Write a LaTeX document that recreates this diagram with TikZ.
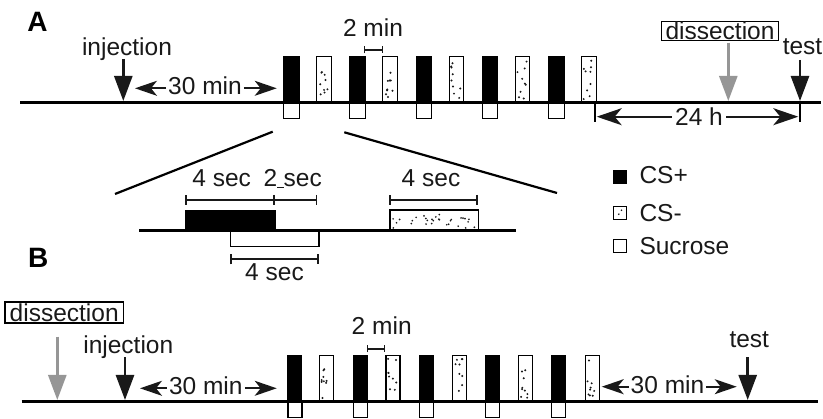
\documentclass[tikz,border=0pt]{standalone}
\usepackage{fontspec}
\setmainfont{Liberation Sans}
\usetikzlibrary{arrows.meta,calc}
\definecolor{ink}{RGB}{25,25,25}
\definecolor{arrowgray}{RGB}{150,150,150}

\begin{document}
\begin{tikzpicture}[x=1pt,y=-1pt,
  every node/.style={font=\fontsize{24.5}{28}\selectfont, text=ink},
  panel/.style={font=\bfseries\fontsize{28}{30}\selectfont, text=black},
  timeline/.style={line width=3pt, draw=black},
  cspbar/.style={fill=black, draw=black, line width=0.8pt, inner sep=0pt, minimum width=#1, minimum height=45.5pt, anchor=south west},
  csmbar/.style={fill=white, draw=black, line width=1.2pt, inner sep=0pt, minimum width=#1, minimum height=45.5pt, anchor=south west},
  sucbox/.style={fill=white, draw=black, line width=1.2pt, inner sep=0pt, minimum width=#1, minimum height=15pt, anchor=north west},
  boxed/.style={draw=black, line width=1.2pt, inner sep=0pt, minimum width=117pt, minimum height=19.5pt},
  downarrow/.style={draw=ink, line width=2.6pt, -{Triangle[length=25pt,width=18pt]}},
  grayarrow/.style={draw=arrowgray, line width=2.6pt, -{Triangle[length=25pt,width=18pt]}},
  spanarrow/.style={draw=ink, line width=1.8pt, -{Stealth[length=22pt,width=15pt,inset=6pt]}},
  longarrow/.style={draw=ink, line width=1.8pt, -{Stealth[length=25pt,width=17pt,inset=7pt]}},
  minbracket/.style={draw=ink, line width=1.3pt, {Bar[width=7pt]}-{Bar[width=7pt]}},
  secbracket/.style={draw=ink, line width=1.8pt, {Bar[width=10pt]}-{Bar[width=10pt]}},
  secbracketr/.style={draw=ink, line width=1.8pt, -{Bar[width=10pt]}},
  tick/.style={draw=black, line width=2pt},
  zoomline/.style={draw=black, line width=2.2pt},
  legendsq/.style={draw=black, line width=1.2pt, inner sep=0pt, minimum size=13pt},
  speck/.style={fill=ink}
]
\useasboundingbox (0,0) rectangle (823,419);
\pgfmathsetseed{11}

% ---------------- panel A ----------------
\node[panel] (labA) at (37.5,21.7) {A};

% training trials: CS+ with sucrose, then CS-
\foreach \i in {0,...,4} {
  \node[cspbar=15.5pt] (Ap\i) at ({283+66.25*\i},102.7) {};
  \node[sucbox=15.5pt] (As\i) at ({283+66.25*\i},102.7) {};
  \node[csmbar=14.5pt] (Am\i) at ({316+66.25*\i},102.7) {};
  \foreach \k in {1,...,9}
    \fill[speck] ($(Am\i.south west)+({2.6+rnd*9.4},{-3-rnd*40})$) circle (1.1pt);
}
\coordinate (tlAs) at (20,102.7);
\coordinate (tlAe) at (821,102.7);
\draw[timeline] (tlAs) -- (tlAe);

% injection
\node[anchor=base] (injA) at (127,56) {injection};
\coordinate (injAtop) at (123.3,59);
\coordinate (injAtip) at (123.3,101);
\draw[downarrow] (injAtop) -- (injAtip);

% 30 min interval
\node[anchor=base, inner sep=2pt] (m30A) at (205,95) {30 min};
\coordinate (m30AL) at (135,88.3);
\coordinate (m30AR) at (276.7,88.3);
\draw[spanarrow] (m30A.west |- m30AL) -- (m30AL);
\draw[spanarrow] (m30A.east |- m30AR) -- (m30AR);

% inter-trial interval
\node[anchor=base] (m2A) at (373,37) {2 min};
\coordinate (b2AL) at (364,50);
\coordinate (b2AR) at (383,50);
\draw[minbracket] (b2AL) -- (b2AR);

% dissection
\node[boxed] (disA) at (720,31) {dissection};
\coordinate (disAtop) at (728.3,42.7);
\coordinate (disAtip) at (728.3,101);
\draw[grayarrow] (disAtop) -- (disAtip);

% test
\node[anchor=base] (testA) at (802.5,55) {test};
\coordinate (testAtop) at (800,60);
\coordinate (testAtip) at (800,101);
\draw[downarrow] (testAtop) -- (testAtip);

% 24 h retention
\coordinate (tkAa) at (595,102.7);
\coordinate (tkAab) at (595,122);
\coordinate (tkAb) at (800,102.7);
\coordinate (tkAbb) at (800,122);
\draw[tick] (tkAa) -- (tkAab);
\draw[tick] (tkAb) -- (tkAbb);
\node[anchor=base, inner sep=3pt] (h24) at (699,126) {24 h};
\coordinate (h24L) at (596.7,116.7);
\coordinate (h24R) at (798.3,116.7);
\draw[longarrow] (h24.west |- h24L) -- (h24L);
\draw[longarrow] (h24.east |- h24R) -- (h24R);

% ---------------- trial detail ----------------
\coordinate (zl1) at (115,194);
\coordinate (zl2) at (272.7,131.7);
\coordinate (zr1) at (344.3,132.3);
\coordinate (zr2) at (557,193);
\draw[zoomline] (zl1) -- (zl2);
\draw[zoomline] (zr1) -- (zr2);

\node[cspbar=90pt, minimum height=20.3pt] (dP) at (185,231) {};
\node[sucbox=88.3pt, minimum height=14.7pt] (dS) at (230,231) {};
\node[csmbar=88.4pt, minimum height=20.3pt] (dM) at (389.3,231) {};
\foreach \k in {1,...,30}
  \fill[speck] ($(dM.south west)+({2.5+rnd*83.4},{-3-rnd*14.5})$) circle (0.95pt);
\coordinate (dls) at (139.3,231);
\coordinate (dle) at (516,231);
\draw[timeline] (dls) -- (dle);

\coordinate (bt1) at (185,200);
\coordinate (bt2) at (275,200);
\coordinate (bt3) at (317.3,200);
\coordinate (bt4) at (389.3,200);
\coordinate (bt5) at (477.7,200);
\coordinate (bb1) at (230,259.3);
\coordinate (bb2) at (319,259.3);
\draw[secbracket] (bt1) -- (bt2);
\draw[secbracketr] (bt2) -- (bt3);
\draw[secbracket] (bt4) -- (bt5);
\draw[secbracket] (bb1) -- (bb2);
\node[anchor=base] (s4a) at (221.7,187) {4 sec};
\node[anchor=base] (s2) at (292.7,187) {2\rule[-1.2pt]{6.5pt}{1.2pt}sec};
\node[anchor=base] (s4b) at (431,187) {4 sec};
\node[anchor=base] (s4c) at (274.5,281) {4 sec};

% legend
\node[legendsq, fill=black] (lgP) at (620,177) {};
\node[legendsq, fill=white] (lgM) at (620,212.7) {};
\fill[speck] ($(lgM.center)+(1.5,-2.5)$) circle (0.9pt);
\fill[speck] ($(lgM.center)+(-1.2,1.5)$) circle (0.9pt);
\node[legendsq, fill=white] (lgS) at (620,246) {};
\node[anchor=base west, inner sep=0pt] (lgPt) at (639.3,183.4) {CS+};
\node[anchor=base west, inner sep=0pt] (lgMt) at (639.3,221.4) {CS-};
\node[anchor=base west, inner sep=0pt] (lgSt) at (639.3,255) {Sucrose};

% ---------------- panel B ----------------
\node[panel] (labB) at (38.3,258) {B};

\foreach \i in {0,...,4} {
  \node[cspbar=14pt] (Bp\i) at ({287.3+65.9*\i},401.7) {};
  \node[sucbox=14pt] (Bs\i) at ({287.3+65.9*\i},401.7) {};
  \node[csmbar=14pt] (Bm\i) at ({319+66.4*\i},401.7) {};
  \foreach \k in {1,...,9}
    \fill[speck] ($(Bm\i.south west)+({2.6+rnd*8.8},{-3-rnd*40})$) circle (1.1pt);
}
\coordinate (tlBs) at (21.7,401.7);
\coordinate (tlBe) at (818.3,401.7);
\draw[timeline] (tlBs) -- (tlBe);

% dissection
\node[boxed, minimum width=118.3pt, minimum height=21pt] (disB) at (64.2,312.5) {dissection};
\coordinate (disBtop) at (57.3,336.7);
\coordinate (disBtip) at (57.3,400);
\draw[grayarrow] (disBtop) -- (disBtip);

% injection
\node[anchor=base] (injB) at (128.3,354) {injection};
\coordinate (injBtop) at (125,357.3);
\coordinate (injBtip) at (125,400);
\draw[downarrow] (injBtop) -- (injBtip);

% 30 min before training
\node[anchor=base, inner sep=2pt] (m30B) at (205.8,395) {30 min};
\coordinate (m30BL) at (140,388.3);
\coordinate (m30BR) at (276.7,388.3);
\draw[spanarrow] (m30B.west |- m30BL) -- (m30BL);
\draw[spanarrow] (m30B.east |- m30BR) -- (m30BR);

% inter-trial interval
\node[anchor=base] (m2B) at (381.7,335) {2 min};
\coordinate (b2BL) at (366.7,349);
\coordinate (b2BR) at (385,349);
\draw[minbracket] (b2BL) -- (b2BR);

% 30 min after training
\node[anchor=base, inner sep=2pt] (m30C) at (667.5,394) {30 min};
\coordinate (m30CL) at (601.7,386.7);
\coordinate (m30CR) at (736.7,386.7);
\draw[spanarrow] (m30C.west |- m30CL) -- (m30CL);
\draw[spanarrow] (m30C.east |- m30CR) -- (m30CR);

% test
\node[anchor=base] (testB) at (749.3,347.3) {test};
\coordinate (testBtop) at (747.7,357.3);
\coordinate (testBtip) at (747.7,400);
\draw[downarrow] (testBtop) -- (testBtip);
\end{tikzpicture}
\end{document}
